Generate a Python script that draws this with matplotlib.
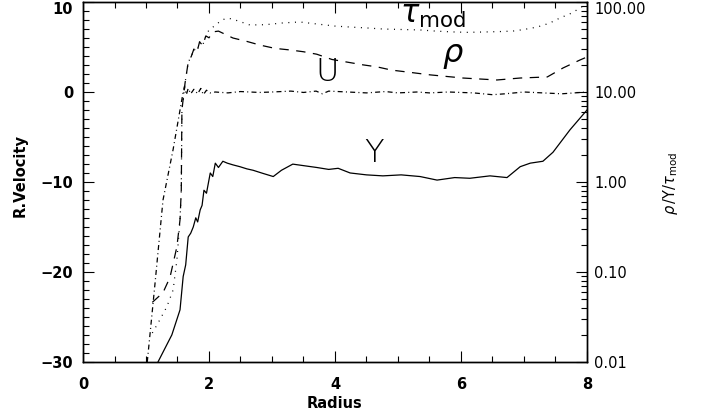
import numpy as np
import matplotlib
matplotlib.use("Agg")
import matplotlib.pyplot as plt

# U: radial velocity (left axis)
u_x = [1.02, 1.14, 1.27, 1.43, 1.54, 1.59, 1.61, 1.64, 1.67, 1.71, 1.76, 1.82, 1.87, 1.91,
       1.96, 2.02, 2.1, 2.3, 2.5, 2.8, 3.0, 3.3, 3.5, 3.7, 3.8, 3.9, 4.2, 4.5, 4.8, 5.0,
       5.3, 5.5, 5.8, 6.2, 6.5, 6.7, 7.0, 7.3, 7.6, 7.8, 8.0]
u_v = [-30.0, -21.5, -12.0, -6.4, -2.0, 0.0, 0.6, -0.3, 0.4, -0.2, 0.3, -0.2, 0.4, -0.3,
       0.2, -0.1, 0.0, -0.1, 0.05, -0.05, 0.0, 0.1, -0.05, 0.1, -0.2, 0.1, 0.0, -0.1, 0.05,
       -0.1, 0.0, -0.1, 0.0, -0.1, -0.3, -0.2, 0.0, -0.1, -0.2, -0.1, 0.0]

# rho (right, log axis)
rho_x = [1.10, 1.27, 1.38, 1.49, 1.54, 1.56, 1.57, 1.62, 1.67, 1.72, 1.76, 1.81, 1.85,
         1.90, 1.95, 2.0, 2.06, 2.15, 2.38, 2.6, 2.81, 3.05, 3.29, 3.5, 3.71, 3.95, 4.19,
         4.45, 4.67, 4.9, 5.14, 5.51, 6.03, 6.57, 6.94, 7.37, 7.62, 7.89, 8.0]
rho = [0.046, 0.059, 0.087, 0.19, 0.38, 0.81, 6.3, 12.6, 21.4, 25.0, 30.0, 28.0, 36.0,
       33.0, 42.0, 40.0, 46.5, 47.5, 39.8, 36.5, 33.2, 30.5, 29.3, 28.0, 26.3, 23.0, 21.5,
       20.0, 19.0, 17.5, 16.7, 15.5, 14.3, 13.6, 14.3, 14.7, 18.5, 22.7, 24.5]

# Y (right, log axis)
y_x = [1.19, 1.41, 1.54, 1.59, 1.63, 1.67, 1.71, 1.75, 1.79, 1.82, 1.86, 1.89, 1.92, 1.96,
       2.02, 2.06, 2.1, 2.15, 2.22, 2.29, 2.38, 2.49, 2.6, 2.7, 2.85, 3.02, 3.15, 3.33,
       3.5, 3.71, 3.9, 4.05, 4.24, 4.5, 4.76, 5.05, 5.35, 5.62, 5.9, 6.14, 6.46, 6.73,
       6.94, 7.1, 7.3, 7.46, 7.73, 8.0]
y_val = [0.010, 0.020, 0.038, 0.089, 0.12, 0.245, 0.27, 0.316, 0.40, 0.36, 0.49, 0.55,
         0.81, 0.75, 1.26, 1.15, 1.62, 1.45, 1.70, 1.62, 1.55, 1.48, 1.40, 1.35, 1.25, 1.15,
         1.35, 1.58, 1.52, 1.45, 1.38, 1.42, 1.26, 1.20, 1.17, 1.20, 1.15, 1.05, 1.12, 1.10,
         1.17, 1.12, 1.48, 1.62, 1.70, 2.14, 3.80, 6.31]

# tau_mod (right, log axis)
tau_x = [1.10, 1.19, 1.33, 1.43, 1.49, 1.54, 1.56, 1.57, 1.62, 1.67, 1.72, 1.76, 1.81,
         1.85, 1.90, 1.95, 2.0, 2.1, 2.2, 2.3, 2.45, 2.65, 2.9, 3.17, 3.44, 3.71, 4.0, 4.24,
         4.5, 4.76, 5.05, 5.35, 5.6, 5.87, 6.1, 6.41, 6.65, 6.83, 7.0, 7.21, 7.4, 7.57,
         7.75, 7.89, 8.0]
tau = [0.021, 0.027, 0.041, 0.063, 0.135, 0.38, 0.81, 6.3, 12.6, 21.4, 25.0, 30.0, 28.0,
       36.0, 33.0, 42.0, 49.0, 55.0, 63.0, 66.4, 62.0, 55.5, 56.0, 58.5, 60.0, 57.0, 54.0,
       52.7, 51.5, 50.1, 49.5, 48.9, 47.5, 46.5, 46.0, 46.5, 47.0, 47.6, 49.5, 52.7, 58.0,
       66.4, 75.0, 85.7, 97.7]

fig = plt.figure(figsize=(7.07, 4.2), dpi=100)
ax = fig.add_axes([83 / 707, 1 - 362 / 420, 504 / 707, 360 / 420])
ax2 = ax.twinx()

ax.plot(u_x, u_v, color="black", lw=0.9, dashes=(4, 2.6, 0.8, 2.6))
ax2.plot(rho_x, rho, color="black", lw=0.9, dashes=(7.5, 6))
ax2.plot(y_x, y_val, color="black", lw=0.9)
ax2.plot(tau_x, tau, color="black", lw=0.9, dashes=(0.8, 4.5))

ax.set_xlim(0, 8)
ax.set_ylim(-30, 10)
ax2.set_yscale("log")
ax2.set_ylim(0.01, 100)

ax.set_xticks([0, 2, 4, 6, 8])
ax.set_xticks(np.arange(0, 8.01, 0.5), minor=True)
ax.set_yticks([-30, -20, -10, 0, 10])
ax.set_yticks(np.arange(-30, 10.01, 1), minor=True)
ax.tick_params(which="both", direction="in", top=True, right=False, width=0.8,
               labelsize=10.5)
ax.tick_params(axis="y", pad=7)
ax.tick_params(axis="x", pad=11)
ax.tick_params(which="major", length=8)
ax.tick_params(which="minor", length=4.5)
for lab in ax.get_xticklabels() + ax.get_yticklabels():
    lab.set_fontweight("bold")
ax.yaxis.get_major_ticks()[-1].label1.set_va("top")

ax2.set_yticks([0.01, 0.1, 1, 10, 100])
ax2.set_yticklabels(["0.01", "0.10", "1.00", "10.00", "100.00"])
ax2.tick_params(which="both", direction="in", width=0.8, labelsize=10.5, pad=5)
ax2.tick_params(which="major", length=8)
ax2.tick_params(which="minor", length=4.5)
ax2.yaxis.get_major_ticks()[-1].label2.set_va("top")

for a in (ax, ax2):
    for spine in a.spines.values():
        spine.set_linewidth(1.0)

fig.text(20 / 707, 1 - 175 / 420, "R.Velocity", rotation=90, ha="center", va="center",
         fontsize=10.5, fontweight="bold")
fig.text(335 / 707, 1 - 403 / 420, "Radius", ha="center", va="center",
         fontsize=10.5, fontweight="bold")
fig.text(670 / 707, 1 - 183 / 420, r"$\rho\,$/Y/$\tau_{\mathrm{mod}}$", rotation=90,
         ha="center", va="center", fontsize=10.5)

# curve labels
ax.text(5.56, 8.5, r"$\tau_{\mathrm{mod}}$", ha="center", va="center", fontsize=22)
ax.text(5.87, 4.1, r"$\rho$", ha="center", va="center", fontsize=23)
ax.text(3.87, 2.2, "U", ha="center", va="center", fontsize=23, fontweight="light")
ax.text(4.62, -6.8, "Y", ha="center", va="center", fontsize=23, fontweight="light")

fig.savefig("out.png", dpi=100)
